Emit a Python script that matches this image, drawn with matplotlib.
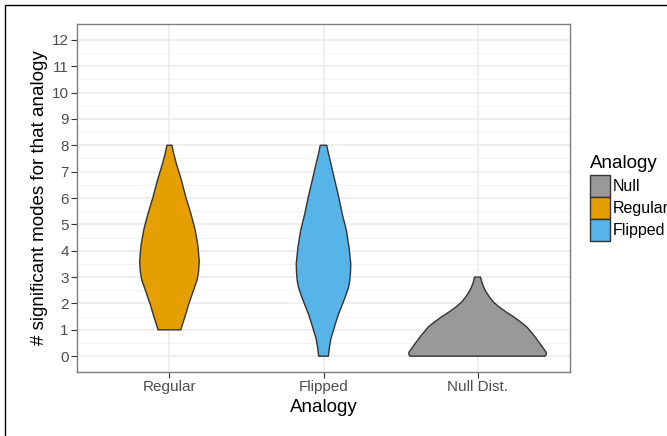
import numpy as np
import matplotlib
matplotlib.use("Agg")
import matplotlib.pyplot as plt
from matplotlib.patches import Patch, Rectangle

plt.rcParams['font.family'] = ['Liberation Sans', 'DejaVu Sans']

# categories on the x axis and their fill colours
categories = ["Regular", "Flipped", "Null Dist."]
colors = ["#E69F00", "#56B4E9", "#999999"]

# violin density profiles (relative to the widest violin)
reg_y = [1.0, 1.3, 1.6, 1.95, 2.25, 2.6, 2.9, 3.2, 3.6, 4.2, 4.8, 5.4, 6.0, 6.7, 7.3, 7.7, 8.0]
reg_d = [0.164, 0.2, 0.236, 0.275, 0.314, 0.36, 0.40, 0.42, 0.43, 0.41, 0.37, 0.31, 0.24, 0.17, 0.10, 0.06, 0.036]

flp_y = [0.0, 0.35, 0.7, 0.98, 1.3, 1.62, 1.95, 2.25, 2.6, 2.88, 3.2, 3.51, 4.1, 4.77, 5.4, 6.03, 6.7, 7.3, 7.7, 8.0]
flp_d = [0.07, 0.086, 0.11, 0.143, 0.18, 0.22, 0.27, 0.314, 0.36, 0.38, 0.39, 0.393, 0.37, 0.33, 0.27, 0.22, 0.16, 0.107, 0.07, 0.047]

nul_y = [0.0, 0.05, 0.15, 0.35, 0.55, 0.73, 0.92, 1.11, 1.3, 1.49, 1.68, 1.87, 2.05, 2.25, 2.45, 2.63, 2.82, 3.0]
nul_d = [0.97, 0.99, 0.99, 0.935, 0.88, 0.83, 0.77, 0.71, 0.62, 0.52, 0.41, 0.31, 0.23, 0.17, 0.12, 0.086, 0.06, 0.043]

profiles = [(reg_y, reg_d), (flp_y, flp_d), (nul_y, nul_d)]

legend_labels = ["Null", "Regular", "Flipped"]
legend_colors = ["#999999", "#E69F00", "#56B4E9"]

fig = plt.figure(figsize=(6.67, 4.36), dpi=100)
ax = fig.add_axes([77 / 667, 1 - 372 / 436, (570 - 77) / 667, (372 - 24) / 436])

half = 0.45  # ggplot violin width 0.9
for i, (ys, ds) in enumerate(profiles):
    pos = i + 1
    ys = np.array(ys)
    ds = np.array(ds) * half
    xs = np.concatenate([pos - ds, (pos + ds)[::-1]])
    yy = np.concatenate([ys, ys[::-1]])
    ax.fill(xs, yy, facecolor=colors[i], edgecolor="#333333", linewidth=1.0,
            zorder=3, joinstyle="round")

ax.set_xlim(0.4, 3.6)
ax.set_ylim(-0.6, 12.6)
ax.set_xticks([1, 2, 3])
ax.set_xticklabels(categories)
ax.set_yticks(range(0, 13))
ax.set_yticks(np.arange(0.5, 12.5, 1.0), minor=True)

ax.grid(True, which="major", color="#EBEBEB", linewidth=1.1, zorder=0)
ax.grid(True, which="minor", axis="y", color="#F2F2F2", linewidth=0.6, zorder=0)
ax.set_axisbelow(True)
ax.tick_params(which="minor", length=0)
ax.tick_params(which="major", length=4, color="#333333", width=0.8,
               labelsize=11, labelcolor="#4D4D4D", pad=2)
for s in ax.spines.values():
    s.set_color("#7F7F7F")
    s.set_linewidth(1.0)

ax.set_xlabel("Analogy", fontsize=13.5, labelpad=3)
ax.set_ylabel("# significant modes for that analogy", fontsize=13.5, labelpad=3)

handles = [Patch(facecolor=c, edgecolor="#333333", linewidth=1.0) for c in legend_colors]
leg = fig.legend(handles, legend_labels, title="Analogy", loc="upper left",
                 bbox_to_anchor=(590 / 667, 1 - 155 / 436), frameon=False,
                 fontsize=11.5, title_fontsize=13.5, handlelength=1.25,
                 handleheight=1.75, handletextpad=0.15, labelspacing=0.0,
                 borderpad=0.0, borderaxespad=0.0, alignment="left")
leg._legend_box.sep = 2

# outer frame around the image
fig.patches.append(Rectangle((5 / 667, -0.05), 1.2, 1 - 5 / 436 + 0.05,
                             transform=fig.transFigure, fill=False,
                             edgecolor="black", linewidth=1.0))

fig.savefig("out.png", dpi=100)
